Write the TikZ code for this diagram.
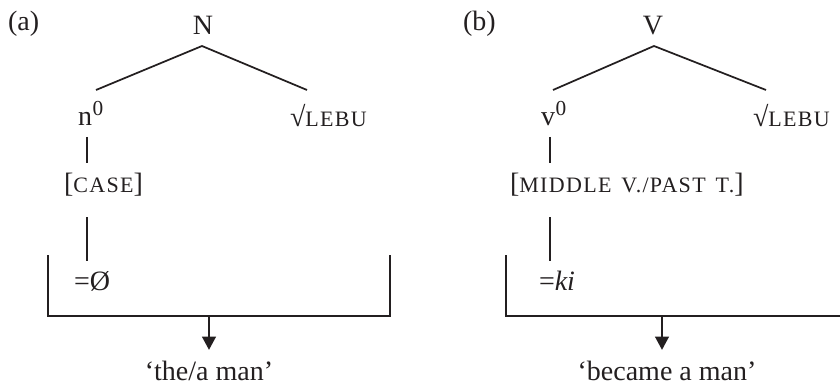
\documentclass[tikz,border=0pt]{standalone}
\usepackage{fontspec}
\setmainfont{Liberation Serif}
\usetikzlibrary{arrows.meta}
\definecolor{ink}{HTML}{231F20}
\newcommand{\fsc}[1]{{\fontsize{16.5}{18}\selectfont\addfontfeature{LetterSpace=6}\spaceskip=0.45em #1}}
\newcommand{\supz}{\raisebox{8pt}{\fontsize{16}{18}\selectfont 0}}
\begin{document}
\begin{tikzpicture}[x=0.75pt,y=-0.75pt,
  lbl/.style={inner sep=0pt,outer sep=0pt,text=ink,font=\fontsize{21}{24}\selectfont},
  edge/.style={draw=ink,line width=1.3pt},
  outarrow/.style={draw=ink,line width=2.2pt,-{Triangle[width=10pt,length=10pt]}}]
\useasboundingbox (0,0) rectangle (840,385);
% ---------- panel (a)
\node[lbl,anchor=base west] (pa) at (8,31) {(a)};
\node[lbl,anchor=base] (Nn) at (203,35) {N};
\node[lbl,anchor=base west] (n0) at (78,126) {n\kern0.5pt\supz};
\node[lbl,anchor=base west] (ra) at (290,127) {√\fsc{LEBU}};
\node[lbl,anchor=base west] (case) at (64,193) {[\fsc{CASE}]};
\node[lbl,anchor=base west] (zero) at (74,290) {=Ø};
\node[lbl,anchor=base] (ga) at (209,380) {‘the/a man’};
\coordinate (aTop) at (202,46);
\coordinate (aL) at (96,90);
\coordinate (aR) at (307,90);
\coordinate (aV1t) at (87,137);
\coordinate (aV1b) at (87,163);
\coordinate (aV2t) at (87,217);
\coordinate (aV2b) at (87,261);
\coordinate (aBtl) at (48,255);
\coordinate (aBbl) at (48,316);
\coordinate (aBbr) at (390,316);
\coordinate (aBtr) at (390,255);
\coordinate (aArr) at (209,316);
\coordinate (aTip) at (209,350);
\draw[edge] (aL) -- (aTop) -- (aR);
\draw[edge] (aV1t) -- (aV1b);
\draw[edge] (aV2t) -- (aV2b);
\draw[edge] (aBtl) -- (aBbl) -- (aBbr) -- (aBtr);
\draw[outarrow] (aArr) -- (aTip);
% ---------- panel (b)
\node[lbl,anchor=base west] (pb) at (463,31) {(b)};
\node[lbl,anchor=base] (Vn) at (653,35) {V};
\node[lbl,anchor=base west] (v0) at (541,126) {v\kern0.5pt\supz};
\node[lbl,anchor=base west] (rb) at (753,127) {√\fsc{LEBU}};
\node[lbl,anchor=base west] (mid) at (510,193) {[\fsc{MIDDLE V./PAST T.}]};
\node[lbl,anchor=base west] (ki) at (539,290) {=\textit{ki}};
\node[lbl,anchor=base] (gb) at (667,380) {‘became a man’};
\coordinate (bTop) at (654,46);
\coordinate (bL) at (553,90);
\coordinate (bR) at (766,90);
\coordinate (bV1t) at (550,137);
\coordinate (bV1b) at (550,163);
\coordinate (bV2t) at (550,217);
\coordinate (bV2b) at (550,261);
\coordinate (bBtl) at (506,255);
\coordinate (bBbl) at (506,316);
\coordinate (bBbr) at (840,316);
\coordinate (bArr) at (662,316);
\coordinate (bTip) at (662,350);
\draw[edge] (bL) -- (bTop) -- (bR);
\draw[edge] (bV1t) -- (bV1b);
\draw[edge] (bV2t) -- (bV2b);
\draw[edge] (bBtl) -- (bBbl) -- (bBbr);
\draw[outarrow] (bArr) -- (bTip);
\end{tikzpicture}
\end{document}
